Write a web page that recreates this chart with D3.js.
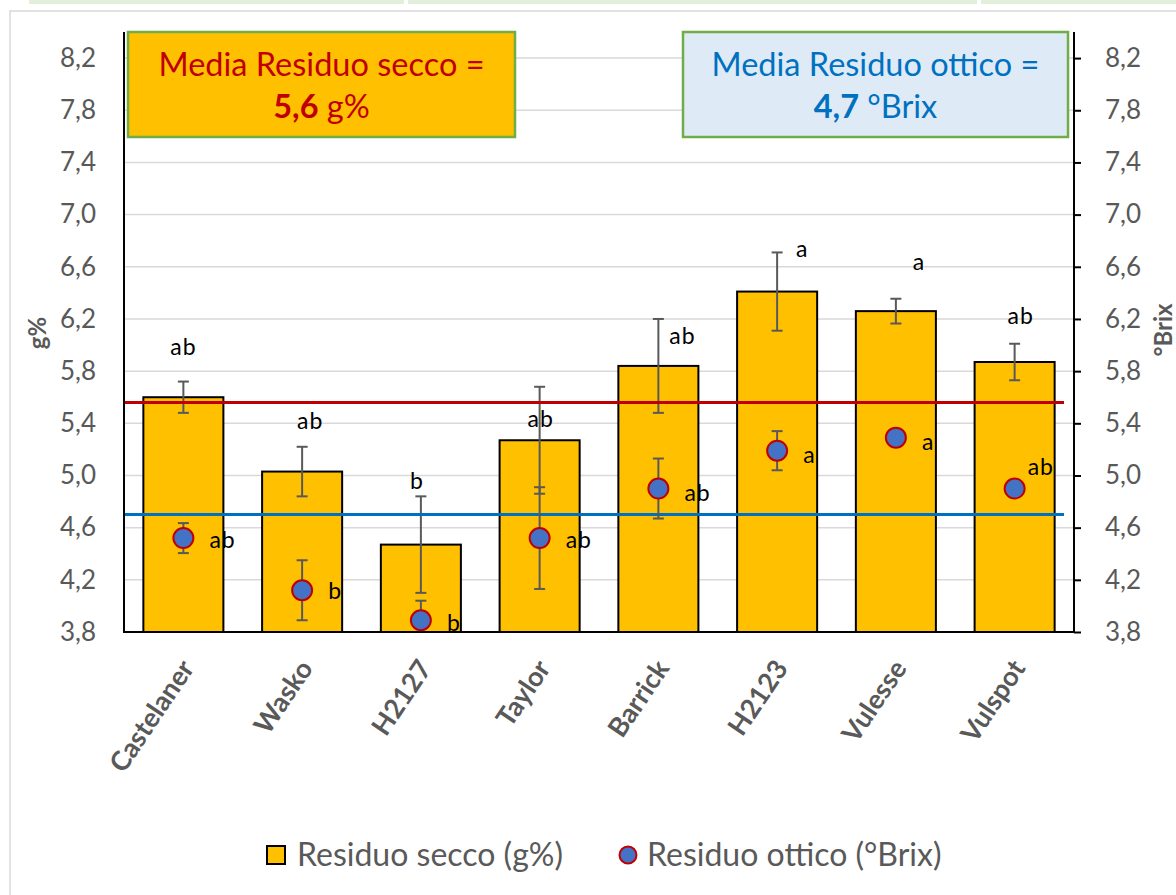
<!DOCTYPE html>
<html>
<head>
<meta charset="utf-8">
<script src="https://cdn.jsdelivr.net/npm/d3@7"></script>
<style>
  body { margin: 0; background: #fff; }
  svg { display: block; font-family: Lato, 'Open Sans', sans-serif; }
</style>
</head>
<body>
<svg id="chart" width="1176" height="895"></svg>
<script>
const categories = ['Castelaner', 'Wasko', 'H2127', 'Taylor', 'Barrick', 'H2123', 'Vulesse', 'Vulspot']
const seccoValues = [5.60, 5.03, 4.47, 5.27, 5.84, 6.41, 6.26, 5.87]
const seccoErrors = [0.12, 0.19, 0.37, 0.41, 0.36, 0.30, 0.095, 0.14]
const otticoValues = [4.52, 4.12, 3.89, 4.52, 4.90, 5.19, 5.29, 4.90]
const otticoErrors = [0.115, 0.23, 0.15, 0.39, 0.23, 0.15, 0, 0]
const seccoLetters = ['ab', 'ab', 'b', 'ab', 'ab', 'a', 'a', 'ab']
const otticoLetters = ['ab', 'b', 'b', 'ab', 'ab', 'a', 'a', 'ab']
const seccoMean = 5.56
const otticoMean = 4.70
const yTicks = [3.8, 4.2, 4.6, 5.0, 5.4, 5.8, 6.2, 6.6, 7.0, 7.4, 7.8, 8.2]

// hand placed letter labels (pixel nudges, like in the original sheet)
const seccoNudge = [[0, -35], [8, -26], [-4, -15], [1, 32], [24, 17], [25, -3], [23, -37], [6, -28]]
const otticoNudge = [[26, 2], [26, 1], [26, 3], [26, 2], [26, 4], [26, 4], [26, 4], [13, -22]]

const plot = { left: 124, right: 1074, top: 32, bottom: 632 }
const comma = v => d3.format('.1f')(v).replace('.', ',')

const svg = d3.select('#chart')

// spreadsheet bits around the chart
svg.append('g').selectAll('rect')
    .data([[29, 404], [408, 977], [981, 1176]])
    .join('rect')
    .attr('x', d => d[0]).attr('y', 0)
    .attr('width', d => d[1] - d[0]).attr('height', 4)
    .attr('fill', '#e2efda')
svg.append('rect')
    .attr('x', 10).attr('y', 11).attr('width', 1200).attr('height', 900)
    .attr('fill', '#fff').attr('stroke', '#d9d9d9').attr('stroke-width', 1.5)

const x = d3.scaleBand()
    .domain(categories)
    .range([plot.left, plot.right])
    .paddingInner(0.326)
    .paddingOuter(0.163)

const y = d3.scaleLinear()
    .domain([3.8, 8.4])
    .range([plot.bottom, plot.top])

const rows = categories.map((c, i) => ({
    name: c,
    secco: seccoValues[i], seccoErr: seccoErrors[i],
    ottico: otticoValues[i], otticoErr: otticoErrors[i],
    sl: seccoLetters[i], ol: otticoLetters[i],
    sn: seccoNudge[i], on: otticoNudge[i]
}))
const cx = d => x(d.name) + x.bandwidth() / 2

svg.append('defs').append('clipPath').attr('id', 'plot-clip')
    .append('rect')
    .attr('x', plot.left).attr('y', plot.top)
    .attr('width', plot.right - plot.left).attr('height', plot.bottom - plot.top)

// gridlines
svg.append('g')
    .selectAll('line')
    .data(yTicks.slice(1))
    .join('line')
    .attr('x1', plot.left).attr('x2', plot.right)
    .attr('y1', d => y(d)).attr('y2', d => y(d))
    .attr('stroke', '#d9d9d9').attr('stroke-width', 1.5)

const body = svg.append('g').attr('clip-path', 'url(#plot-clip)')

body.append('g')
    .selectAll('rect')
    .data(rows)
    .join('rect')
    .attr('x', d => x(d.name))
    .attr('y', d => y(d.secco))
    .attr('width', x.bandwidth())
    .attr('height', d => y(3.8) - y(d.secco))
    .attr('fill', '#ffc000')
    .attr('stroke', '#000')
    .attr('stroke-width', 2)

function errorBars(g, data, val, err) {
    const e = g.append('g').attr('stroke', '#595959').attr('stroke-width', 2)
    const withErr = data.filter(d => err(d) > 0)
    e.selectAll('.stem').data(withErr).join('line').attr('class', 'stem')
        .attr('x1', cx).attr('x2', cx)
        .attr('y1', d => y(val(d) + err(d))).attr('y2', d => y(val(d) - err(d)))
    e.selectAll('.cap-top').data(withErr).join('line').attr('class', 'cap-top')
        .attr('x1', d => cx(d) - 5.5).attr('x2', d => cx(d) + 5.5)
        .attr('y1', d => y(val(d) + err(d))).attr('y2', d => y(val(d) + err(d)))
    e.selectAll('.cap-bot').data(withErr).join('line').attr('class', 'cap-bot')
        .attr('x1', d => cx(d) - 5.5).attr('x2', d => cx(d) + 5.5)
        .attr('y1', d => y(val(d) - err(d))).attr('y2', d => y(val(d) - err(d)))
}

errorBars(body, rows, d => d.secco, d => d.seccoErr)

// mean lines
body.append('line')
    .attr('x1', plot.left).attr('x2', plot.right - 10)
    .attr('y1', y(seccoMean)).attr('y2', y(seccoMean))
    .attr('stroke', '#c00000').attr('stroke-width', 3)
body.append('line')
    .attr('x1', plot.left).attr('x2', plot.right - 10)
    .attr('y1', y(otticoMean)).attr('y2', y(otticoMean))
    .attr('stroke', '#0070c0').attr('stroke-width', 3)

errorBars(body, rows, d => d.ottico, d => d.otticoErr)

body.append('g')
    .selectAll('circle')
    .data(rows)
    .join('circle')
    .attr('cx', cx)
    .attr('cy', d => y(d.ottico))
    .attr('r', 10)
    .attr('fill', '#4472c4')
    .attr('stroke', '#c00000')
    .attr('stroke-width', 2)

// significance letters
svg.append('g')
    .selectAll('text')
    .data(rows)
    .join('text')
    .attr('x', d => cx(d) + d.sn[0])
    .attr('y', d => y(d.secco + d.seccoErr) + d.sn[1])
    .attr('dy', '0.35em')
    .attr('text-anchor', 'middle')
    .style('font-size', '23px')
    .style('letter-spacing', '1px')
    .attr('fill', '#000')
    .text(d => d.sl)
svg.append('g')
    .selectAll('text')
    .data(rows)
    .join('text')
    .attr('x', d => cx(d) + d.on[0])
    .attr('y', d => y(d.ottico) + d.on[1])
    .attr('dy', '0.35em')
    .style('font-size', '23px')
    .style('letter-spacing', '1px')
    .attr('fill', '#000')
    .text(d => d.ol)

// axes
const leftAxis = svg.append('g')
    .attr('transform', `translate(${plot.left},0)`)
    .call(d3.axisLeft(y).tickValues(yTicks).tickFormat(comma).tickSize(0).tickPadding(28))
leftAxis.select('.domain').attr('stroke', '#000').attr('stroke-width', 2)
    .attr('d', `M0,${plot.top}V${plot.bottom}`)

const rightAxis = svg.append('g')
    .attr('transform', `translate(${plot.right},0)`)
    .call(d3.axisRight(y).tickValues(yTicks).tickFormat(comma).tickSize(7).tickPadding(24))
rightAxis.select('.domain').attr('stroke', '#000').attr('stroke-width', 2)
    .attr('d', `M0,${plot.top}V${plot.bottom}`)
rightAxis.selectAll('.tick line').attr('stroke', '#000').attr('stroke-width', 2)

svg.selectAll('.tick text')
    .attr('fill', '#595959')
    .style('font-size', '26px')
    .style('font-family', 'Lato, sans-serif')

svg.append('line')
    .attr('x1', plot.left - 1).attr('x2', plot.right + 1)
    .attr('y1', plot.bottom).attr('y2', plot.bottom)
    .attr('stroke', '#000').attr('stroke-width', 2)

svg.append('g')
    .selectAll('text')
    .data(categories)
    .join('text')
    .attr('transform', d => `translate(${x(d) + x.bandwidth() / 2 + 4},663) rotate(-56)`)
    .attr('dy', '0.35em')
    .attr('text-anchor', 'end')
    .attr('fill', '#595959')
    .style('font-size', '27px')
    .style('font-weight', 'bold')
    .text(d => d)

svg.append('text')
    .attr('transform', 'translate(38,333) rotate(-90)')
    .attr('dy', '0.35em')
    .attr('text-anchor', 'middle')
    .attr('fill', '#595959')
    .style('font-size', '24px')
    .style('font-weight', 'bold')
    .text('g%')
svg.append('text')
    .attr('transform', 'translate(1164,330) rotate(-90)')
    .attr('dy', '0.35em')
    .attr('text-anchor', 'middle')
    .attr('fill', '#595959')
    .style('font-size', '24px')
    .style('font-weight', 'bold')
    .text('°Brix')

// mean boxes
const boxes = [
    { x0: 128, x1: 515, fill: '#ffc000', color: '#c00000', line: 'Media Residuo secco =', value: seccoMean, unit: 'g%' },
    { x0: 683, x1: 1068, fill: '#deebf7', color: '#0070c0', line: 'Media Residuo ottico =', value: otticoMean, unit: '°Brix' }
]
const bx = svg.append('g').selectAll('g').data(boxes).join('g')
bx.append('rect')
    .attr('x', d => d.x0).attr('y', 32)
    .attr('width', d => d.x1 - d.x0).attr('height', 105)
    .attr('fill', d => d.fill)
    .attr('stroke', '#70ad47').attr('stroke-width', 2.5)
bx.append('text')
    .attr('x', d => (d.x0 + d.x1) / 2).attr('y', 76)
    .attr('text-anchor', 'middle')
    .attr('fill', d => d.color)
    .style('font-size', '32.5px')
    .text(d => d.line)
const l2 = bx.append('text')
    .attr('x', d => (d.x0 + d.x1) / 2).attr('y', 118)
    .attr('text-anchor', 'middle')
    .attr('fill', d => d.color)
    .style('font-size', '32.5px')
l2.append('tspan').style('font-weight', 'bold').text(d => comma(d.value))
l2.append('tspan').text(d => ' ' + d.unit)

// legend
const lg = svg.append('g')
lg.append('rect')
    .attr('x', 267).attr('y', 846).attr('width', 18).attr('height', 18)
    .attr('fill', '#ffc000').attr('stroke', '#000').attr('stroke-width', 2)
lg.append('text')
    .attr('x', 297).attr('y', 855).attr('dy', '0.35em')
    .attr('fill', '#595959').style('font-size', '32px')
    .text('Residuo secco (g%)')
lg.append('circle')
    .attr('cx', 628).attr('cy', 855).attr('r', 8.5)
    .attr('fill', '#4472c4').attr('stroke', '#c00000').attr('stroke-width', 2)
lg.append('text')
    .attr('x', 647).attr('y', 855).attr('dy', '0.35em')
    .attr('fill', '#595959').style('font-size', '32px')
    .text('Residuo ottico (°Brix)')
</script>
</body>
</html>
